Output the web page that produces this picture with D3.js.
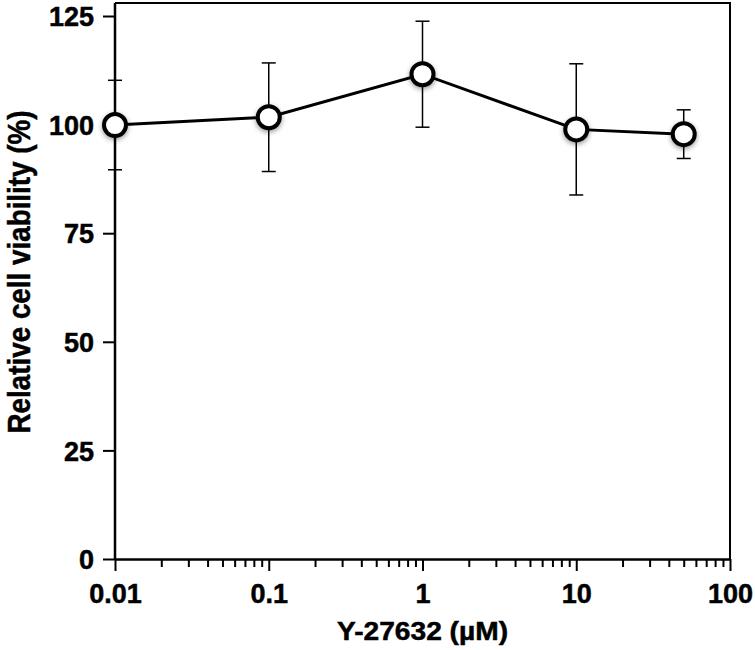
<!DOCTYPE html>
<html>
<head>
<meta charset="utf-8">
<script src="https://cdn.jsdelivr.net/npm/d3@7"></script>
<style>
  html, body { margin: 0; padding: 0; background: #fff; }
  svg { display: block; }
  text { font-family: "Liberation Sans", Arial, Helvetica, sans-serif; font-weight: bold; fill: #000; stroke: #000; stroke-width: 0.5px; }
</style>
</head>
<body>
<svg id="chart" width="755" height="650"></svg>
<script>
const concentrations = [0.01, 0.1, 1, 10, 50];
const viability = [99.9, 101.7, 111.6, 98.9, 97.8];
const sd = [10.3, 12.5, 12.2, 15.1, 5.6];
const xTickValues = [0.01, 0.1, 1, 10, 100];
const xTickLabels = ["0.01", "0.1", "1", "10", "100"];
const yTickValues = [0, 25, 50, 75, 100, 125];
const xTitle = "Y-27632 (\u00B5M)";
const yTitle = "Relative cell viability (%)";

const svg = d3.select("#chart");
const x = d3.scaleLog().domain([0.01, 100]).range([115, 730]);
const y = d3.scaleLinear().domain([0, 125]).range([559, 16]);

const defs = svg.append("defs");
const f = defs.append("filter").attr("id", "shadow").attr("x", "-50%").attr("y", "-50%").attr("width", "200%").attr("height", "200%");
f.append("feDropShadow").attr("dx", 0).attr("dy", 2).attr("stdDeviation", 2.5).attr("flood-color", "#000").attr("flood-opacity", 0.4);

const frameTop = y(128);
svg.append("path")
  .attr("d", `M${x(0.01)},${frameTop}H${x(100)}V${y(0)}`)
  .attr("fill", "none").attr("stroke", "#000").attr("stroke-width", 2);

const minor = [];
for (let d = -2; d < 2; d++) for (let m = 2; m <= 9; m++) minor.push(m * Math.pow(10, d));
svg.append("g").attr("transform", `translate(0,${y(0)})`)
  .call(d3.axisBottom(x).tickValues(minor).tickSize(8).tickFormat(""))
  .call(g => g.select(".domain").remove())
  .call(g => g.selectAll("line").attr("stroke-width", 2));

const xAxis = svg.append("g").attr("transform", `translate(0,${y(0)})`)
  .call(d3.axisBottom(x).tickValues(xTickValues).tickSize(12).tickSizeOuter(0)
    .tickFormat((d, i) => xTickLabels[i]));
xAxis.select(".domain").attr("stroke-width", 2.5);
xAxis.selectAll("line").attr("stroke-width", 2);
xAxis.selectAll("text").attr("font-size", 27).attr("font-family", null).attr("y", 0).attr("dy", null)
  .attr("transform", "translate(0,44)");

const yAxis = svg.append("g").attr("transform", `translate(${x(0.01)},0)`)
  .call(d3.axisLeft(y).tickValues(yTickValues).tickSize(12).tickSizeOuter(0).tickPadding(9));
yAxis.select(".domain").attr("stroke-width", 2.5).attr("d", `M0,${frameTop}V${y(0)}`);
yAxis.selectAll("line").attr("stroke-width", 2);
yAxis.selectAll("text").attr("font-size", 27).attr("font-family", null).attr("dy", "0.36em");

svg.append("text").attr("x", (x(0.01) + x(100)) / 2).attr("y", 640)
  .attr("text-anchor", "middle").attr("font-size", 26)
  .attr("textLength", 171).attr("lengthAdjust", "spacingAndGlyphs").text(xTitle);
svg.append("text").attr("transform", `translate(30,${(frameTop + y(0)) / 2 - 9}) rotate(-90)`)
  .attr("text-anchor", "middle").attr("font-size", 31)
  .attr("textLength", 323).attr("lengthAdjust", "spacingAndGlyphs").text(yTitle);

const data = concentrations.map((c, i) => ({ c, v: viability[i], s: sd[i] }));

const eb = svg.append("g").attr("stroke", "#000").attr("stroke-width", 1.5);
data.forEach(d => {
  eb.append("line").attr("x1", x(d.c)).attr("x2", x(d.c)).attr("y1", y(d.v - d.s)).attr("y2", y(d.v + d.s));
  [d.v - d.s, d.v + d.s].forEach(val => {
    eb.append("line").attr("x1", x(d.c) - 7).attr("x2", x(d.c) + 7).attr("y1", y(val)).attr("y2", y(val));
  });
});

svg.append("path").datum(data)
  .attr("d", d3.line().x(d => x(d.c)).y(d => y(d.v)))
  .attr("fill", "none").attr("stroke", "#000").attr("stroke-width", 3);

svg.append("g").selectAll("circle").data(data).join("circle")
  .attr("cx", d => x(d.c)).attr("cy", d => y(d.v)).attr("r", 11)
  .attr("fill", "#fff").attr("stroke", "#000").attr("stroke-width", 4)
  .attr("filter", "url(#shadow)");
</script>
</body>
</html>
